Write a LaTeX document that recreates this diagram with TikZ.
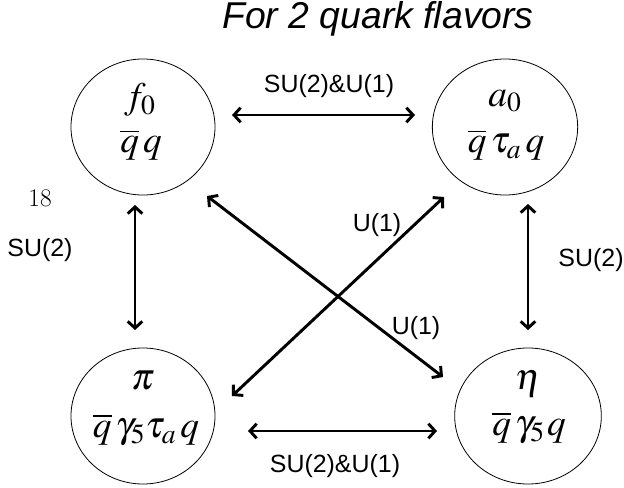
\documentclass[tikz,border=0pt]{standalone}
\usepackage{mathptmx}
\usepackage[no-math]{fontspec}
\newfontfamily\arial{Liberation Sans}
\usetikzlibrary{shapes.geometric,arrows.meta}
\begin{document}
\begin{tikzpicture}[x=0.75pt,y=-0.75pt,
  circ/.style={draw, ellipse, line width=0.6pt, inner sep=0pt},
  mth/.style={font=\fontsize{28}{32}\selectfont, inner sep=0pt},
  lab/.style={font=\arial\fontsize{18.7}{21}\selectfont, inner sep=0pt},
  arr/.style={line width=2.2pt, {Straight Barb[length=5pt,width=11pt]}-{Straight Barb[length=5pt,width=11pt]}}]
\useasboundingbox (0,0) rectangle (624,488);
% title
\node[font=\arial\itshape\fontsize{28}{32}\selectfont, inner sep=0pt] (title) at (378,19) {For 2 quark flavors};
% ellipses
\node[circ, minimum width=108pt, minimum height=102pt] (f0) at (143,127) {};
\node[circ, minimum width=109pt, minimum height=102pt] (a0) at (505,127) {};
\node[circ, minimum width=108pt, minimum height=102pt] (pi) at (143,416) {};
\node[circ, minimum width=110pt, minimum height=102pt] (eta) at (528,416) {};
% contents
\node[mth] (f0a) at (140,100) {$f_0$};
\node[mth] (f0b) at (141,145) {$\overline{q}\,q$};
\node[mth] (a0a) at (505,101) {$a_0$};
\node[mth] (a0b) at (506,145) {$\overline{q}\,\tau_a\mkern2mu q$};
\node[mth] (pia) at (143,381) {$\pi$};
\node[mth] (pib) at (146,430) {$\overline{q}\,\gamma_5\tau_a\mkern2mu q$};
\node[mth] (etaa) at (528,384) {$\eta$};
\node[mth] (etab) at (529,428) {$\overline{q}\,\gamma_5\mkern1mu q$};
% arrow end points
\coordinate (t1) at (232,115); \coordinate (t2) at (415,115);
\coordinate (b1) at (248,431); \coordinate (b2) at (437,431);
\coordinate (l1) at (135,205); \coordinate (l2) at (135,330);
\coordinate (r1) at (528,204); \coordinate (r2) at (528,330);
\coordinate (d1) at (207,196); \coordinate (d2) at (443,377);
\coordinate (e1) at (444,197); \coordinate (e2) at (232,396);
\draw[arr] (t1) -- (t2);
\draw[arr] (b1) -- (b2);
\draw[arr] (l1) -- (l2);
\draw[arr] (r1) -- (r2);
\draw[arr] (d1) -- (d2);
\draw[arr] (e1) -- (e2);
% labels
\node[lab] (lt) at (329,86) {SU(2)\&U(1)};
\node[lab] (lb) at (335,466) {SU(2)\&U(1)};
\node[lab] (ll) at (40,250) {SU(2)};
\node[lab] (lr) at (591,260) {SU(2)};
\node[lab] (lu1) at (377,225) {U(1)};
\node[lab] (lu2) at (416,328) {U(1)};
\node[font=\fontfamily{lmr}\selectfont\fontsize{19}{22}\selectfont, inner sep=0pt] (n18) at (40,198) {18};
\end{tikzpicture}
\end{document}
